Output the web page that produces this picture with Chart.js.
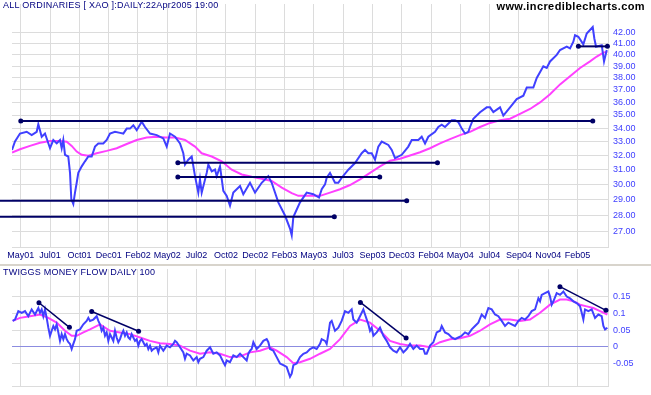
<!DOCTYPE html>
<html>
<head>
<meta charset="utf-8">
<title>ALL ORDINARIES daily</title>
<script src="https://cdn.jsdelivr.net/npm/chart.js@4.4.0/dist/chart.umd.min.js"></script>
<style>
  html, body { margin: 0; padding: 0; background: #fff; }
  #wrap { position: relative; width: 651px; height: 395px; overflow: hidden; }
  canvas { position: absolute; left: 0; }
  #top { top: 0; }
  #bottom { top: 265px; }
  .label { position: absolute; font-family: Arial, "Liberation Sans", sans-serif; white-space: nowrap; }
  #title { left: 3px; top: 0; font-size: 9px; line-height: 11px; color: #000080; letter-spacing: 0.25px; }
  #site { right: 6px; top: 0; font-size: 11px; line-height: 13px; font-weight: bold; color: #000; letter-spacing: 0.4px; }
  #subtitle { left: 3px; top: 267px; font-size: 9px; line-height: 11px; color: #000080; letter-spacing: 0.25px; }
  #sep { position: absolute; left: 0; top: 264px; width: 651px; height: 2px; background: #d8d4cc; }
</style>
</head>
<body>
<div id="wrap">
  <canvas id="top" width="651" height="265"></canvas>
  <canvas id="bottom" width="651" height="130"></canvas>
  <div id="sep"></div>
  <div class="label" id="title">ALL ORDINARIES [ XAO ]:DAILY:22Apr2005 19:00</div>
  <div class="label" id="site">www.incrediblecharts.com</div>
  <div class="label" id="subtitle">TWIGGS MONEY FLOW DAILY 100</div>
</div>
<script>
// x = weeks from the start of the window, a grid line every 10 weeks
const gridWeeks = [3, 13, 23, 33, 43, 53, 63, 73, 83, 93, 103, 113, 123, 133, 143, 153, 163, 173, 183, 193];
const gridLabels = ['May01', 'Jul01', 'Oct01', 'Dec01', 'Feb02', 'May02', 'Jul02', 'Oct02', 'Dec02', 'Feb03',
  'May03', 'Jul03', 'Sep03', 'Dec03', 'Feb04', 'May04', 'Jul04', 'Sep04', 'Nov04', 'Feb05'];
const priceTicks = [27, 28, 29, 30, 31, 32, 33, 34, 35, 36, 37, 38, 39, 40, 41, 42];
const tmfTicks = [-0.05, 0, 0.05, 0.1, 0.15];

// closing price
const priceWeeks = [0, 1.02, 2.73, 5.02, 6.72, 8.43, 8.98, 10.14, 11.26, 12.97, 14.1, 15.26, 16.38, 16.96, 17.51,
  18.09, 19.2, 19.8, 20.24, 20.92, 21.5, 22.08, 22.63, 23.79, 24.91, 26.04, 27.2, 28.33, 29.45, 31.16, 32.32,
  33.45, 35.15, 36.86, 37.99, 39.15, 40.27, 41.4, 42.56, 44.27, 45.39, 47.1, 49.39, 51.64, 52.8, 53.92, 55.63,
  57.34, 58.46, 59.04, 60.17, 61.33, 62.46, 63.58, 64.16, 64.74, 66.45, 67.0, 68.16, 69.28, 69.86, 70.99, 72.12,
  73.28, 74.4, 75.53, 77.82, 78.94, 81.23, 82.94, 85.22, 87.47, 88.63, 90.89, 93.17, 94.88, 95.46, 96.01, 98.29,
  100.58, 102.83, 104.78, 105.7, 106.83, 107.41, 108.53, 110.24, 111.37, 112.53, 114.78, 117.06, 119.35, 120.48,
  121.6, 122.76, 123.89, 125.02, 126.18, 128.43, 129.59, 130.72, 133.0, 135.25, 136.42, 138.67, 139.83, 140.96,
  142.08, 144.37, 145.49, 146.66, 147.78, 150.07, 151.19, 152.32, 153.48, 154.61, 155.73, 156.31, 157.44, 159.73,
  162.01, 163.14, 164.27, 166.55, 167.68, 169.97, 172.25, 174.51, 175.67, 177.92, 179.08, 181.33, 182.49, 183.62,
  185.9, 187.03, 189.32, 190.44, 191.57, 192.15, 193.28, 194.98, 196.14, 198.19, 198.74, 199.32, 201.26, 202.05,
  202.97];
const priceClose = [32.39, 33.0, 33.59, 33.72, 33.47, 33.72, 34.29, 33.35, 33.59, 32.51, 33.11, 32.86, 33.11, 32.51,
  33.11, 32.04, 31.92, 30.78, 29.04, 28.73, 29.46, 30.11, 30.78, 31.23, 31.58, 31.92, 31.92, 32.63, 32.86, 32.86,
  33.11, 33.59, 33.72, 33.64, 33.59, 33.96, 33.96, 34.21, 33.84, 34.48, 34.08, 33.59, 33.47, 33.23, 32.63, 33.59,
  33.35, 32.86, 32.15, 31.35, 31.69, 31.92, 30.56, 29.46, 30.34, 29.46, 30.78, 31.35, 30.89, 31.01, 30.56, 31.23,
  29.57, 29.25, 28.62, 29.46, 29.9, 29.36, 30.11, 29.46, 30.11, 30.56, 30.11, 28.83, 28.0, 27.2, 26.8, 27.9, 28.83,
  29.46, 29.36, 29.14, 29.68, 30.0, 30.45, 30.78, 30.11, 30.11, 30.45, 31.0, 31.46, 32.15, 32.39, 32.15, 32.15,
  31.69, 32.63, 32.99, 32.75, 32.39, 31.8, 32.04, 32.63, 33.11, 33.11, 33.35, 32.86, 33.35, 33.72, 34.08, 34.26,
  34.08, 34.6, 34.6, 34.46, 33.96, 33.59, 33.72, 34.08, 34.71, 35.22, 35.6, 35.6, 35.22, 35.6, 34.96, 35.6, 36.26,
  36.53, 37.2, 37.2, 38.0, 39.0, 38.85, 39.42, 40.0, 40.43, 40.73, 40.58, 41.18, 41.78, 41.64, 40.94, 41.94, 42.55,
  41.48, 40.73, 40.87, 39.42, 40.43];

// moving average of the close
const maWeeks = [0, 2.73, 6.14, 9.56, 12.97, 16.38, 18.67, 20.38, 22.08, 23.79, 26.04, 28.91, 32.32, 35.73, 39.15,
  42.56, 45.97, 49.39, 52.22, 55.63, 59.04, 62.46, 64.74, 68.16, 71.57, 74.98, 78.4, 81.81, 85.22, 88.63, 92.05,
  95.46, 97.71, 101.13, 105.12, 108.53, 111.95, 115.36, 118.77, 122.18, 125.6, 129.01, 132.42, 135.84, 139.25,
  142.66, 146.08, 149.49, 152.9, 156.31, 159.73, 163.14, 166.55, 169.97, 173.38, 176.79, 180.2, 183.62, 187.03,
  190.44, 193.86, 197.27, 199.56, 201.81, 203.17];
const maClose = [32.2, 32.44, 32.68, 32.91, 33.04, 33.04, 32.99, 32.68, 32.27, 32.04, 31.97, 32.15, 32.32, 32.51,
  32.82, 33.11, 33.3, 33.35, 33.3, 33.3, 33.11, 32.63, 32.15, 31.92, 31.58, 31.0, 30.67, 30.51, 30.38, 30.23, 29.79,
  29.43, 29.25, 29.25, 29.25, 29.46, 29.68, 29.96, 30.34, 30.78, 31.23, 31.62, 31.76, 31.99, 32.22, 32.51, 32.86,
  33.18, 33.47, 33.72, 34.08, 34.39, 34.6, 34.71, 35.09, 35.47, 35.99, 36.65, 37.46, 38.15, 38.85, 39.42, 39.85,
  40.2, 40.29];

// horizontal support / resistance lines
const levelPrice = [34.53, 31.48, 30.5, 28.93, 27.92, 40.76];
const levelFrom = [3.0, 56.6, 56.6, -4.1, -4.1, 193.3];
const levelTo = [198.2, 145.2, 125.5, 134.7, 110.0, 203.2];
const levelStartDot = [true, true, true, false, false, true];

// Twiggs money flow (100) and its average
const tmfWeeks = [0.23, 1.02, 2.16, 3.3, 4.44, 5.57, 6.71, 7.85, 8.99, 9.56, 10.13, 10.69, 11.26, 11.83, 12.4, 12.97,
  13.54, 14.11, 14.68, 15.24, 15.81, 16.38, 16.95, 17.52, 18.09, 18.66, 19.23, 19.8, 20.36, 20.93, 21.5, 22.07,
  23.21, 24.35, 25.48, 26.05, 26.62, 27.76, 28.9, 29.47, 30.03, 30.6, 31.17, 31.74, 32.31, 32.88, 33.45, 34.02,
  34.58, 35.15, 35.72, 36.29, 36.86, 37.43, 38.0, 38.57, 39.14, 39.7, 40.27, 40.84, 41.41, 41.98, 42.55, 43.12,
  43.69, 44.25, 44.82, 45.39, 45.96, 46.53, 47.1, 47.67, 48.24, 49.37, 49.94, 50.51, 51.65, 52.79, 53.92, 55.06,
  55.63, 56.2, 57.34, 58.48, 59.04, 59.61, 60.75, 61.89, 63.03, 63.6, 64.16, 65.3, 66.44, 67.01, 67.58, 68.71,
  69.85, 70.99, 72.13, 72.7, 73.27, 74.4, 75.54, 76.68, 77.82, 78.95, 80.09, 80.66, 81.23, 81.8, 82.37, 83.5,
  84.64, 85.78, 86.92, 87.49, 88.05, 89.19, 90.33, 91.47, 92.6, 93.74, 94.88, 95.45, 96.02, 97.16, 98.29, 99.43,
  100.57, 101.71, 102.84, 103.98, 105.12, 105.69, 106.83, 107.39, 107.96, 108.53, 109.1, 109.67, 110.24, 111.38,
  112.51, 113.65, 114.79, 115.93, 116.5, 117.63, 118.77, 119.91, 120.48, 121.62, 122.18, 122.75, 123.32, 124.46,
  125.6, 126.74, 127.87, 129.01, 130.15, 131.29, 132.42, 133.56, 134.7, 135.84, 136.97, 138.11, 139.25, 140.39,
  140.96, 141.52, 142.66, 143.8, 144.94, 146.08, 146.65, 147.78, 148.92, 150.06, 151.2, 152.33, 153.47, 154.61,
  155.75, 156.88, 158.02, 159.16, 160.3, 161.43, 162.0, 162.57, 163.71, 164.85, 165.98, 167.12, 168.26, 169.4,
  170.54, 171.67, 172.81, 173.95, 175.09, 176.22, 177.36, 178.5, 179.64, 180.2, 180.77, 181.91, 183.05, 183.62,
  184.19, 184.76, 185.89, 187.03, 188.17, 189.31, 190.44, 191.58, 192.72, 193.86, 194.43, 194.99, 195.56, 196.7,
  197.84, 198.98, 200.11, 201.25, 201.82, 202.39, 203.19];
const tmfValues = [0.077, 0.081, 0.106, 0.101, 0.106, 0.091, 0.111, 0.096, 0.115, 0.101, 0.111, 0.091, 0.111, 0.086,
  0.057, 0.033, 0.048, 0.062, 0.052, 0.067, 0.043, 0.018, 0.038, 0.023, 0.038, 0.023, 0.014, 0.009, -0.006, 0.009,
  0.023, 0.048, 0.052, 0.067, 0.077, 0.086, 0.077, 0.081, 0.091, 0.077, 0.067, 0.048, 0.057, 0.033, 0.043, 0.018,
  0.038, 0.028, 0.018, 0.048, 0.028, 0.014, 0.023, 0.038, 0.048, 0.033, 0.043, 0.028, 0.023, 0.038, 0.028, 0.018,
  0.023, 0.004, 0.018, 0.023, 0.014, 0.004, 0.009, -0.006, 0.004, -0.011, -0.006, -0.001, -0.016, 0.004, -0.011,
  0.004, -0.001, 0.009, 0.018, 0.014, -0.001, -0.016, -0.035, -0.020, -0.025, -0.040, -0.030, -0.045, -0.035,
  -0.030, -0.011, -0.006, -0.001, -0.020, -0.016, -0.025, -0.045, -0.054, -0.040, -0.045, -0.025, -0.030, -0.020,
  -0.030, -0.040, -0.020, -0.011, -0.006, 0.014, -0.006, 0.004, 0.018, 0.023, 0.014, -0.006, -0.011, -0.030,
  -0.049, -0.054, -0.059, -0.088, -0.079, -0.054, -0.049, -0.030, -0.020, -0.016, -0.006, -0.001, -0.006, 0.009,
  0.023, 0.018, 0.009, 0.038, 0.072, 0.077, 0.062, 0.048, 0.057, 0.077, 0.106, 0.101, 0.111, 0.081, 0.072, 0.091,
  0.111, 0.096, 0.067, 0.048, 0.057, 0.033, 0.043, 0.057, 0.033, 0.018, -0.001, -0.011, -0.016, -0.001, -0.016,
  -0.006, 0.009, -0.006, 0.004, -0.006, -0.006, -0.020, -0.020, 0.004, 0.014, 0.043, 0.048, 0.062, 0.043, 0.038,
  0.028, 0.023, 0.028, 0.033, 0.043, 0.038, 0.052, 0.062, 0.072, 0.096, 0.086, 0.101, 0.115, 0.111, 0.096, 0.091,
  0.077, 0.062, 0.072, 0.067, 0.062, 0.077, 0.086, 0.081, 0.091, 0.106, 0.111, 0.144, 0.135, 0.154, 0.159, 0.164,
  0.149, 0.125, 0.135, 0.159, 0.154, 0.164, 0.149, 0.144, 0.135, 0.130, 0.120, 0.101, 0.081, 0.111, 0.106, 0.111,
  0.086, 0.096, 0.091, 0.062, 0.052, 0.057];
const tmfMaWeeks = [0.23, 2.73, 6.14, 9.56, 12.4, 15.24, 18.09, 20.36, 22.07, 24.35, 26.62, 30.03, 33.45, 36.86,
  40.27, 43.69, 47.1, 50.51, 53.92, 57.34, 60.75, 64.16, 67.58, 70.99, 74.4, 77.82, 81.23, 84.64, 88.05, 90.33,
  93.74, 96.02, 98.29, 101.71, 105.12, 108.53, 111.95, 115.36, 118.77, 122.18, 125.6, 129.01, 132.42, 135.84,
  139.25, 142.66, 146.08, 149.49, 152.9, 156.31, 159.73, 163.14, 166.55, 169.97, 173.38, 176.79, 180.2, 183.62,
  187.03, 189.31, 191.58, 193.86, 196.13, 198.41, 200.68, 203.19];
const tmfMaValues = [0.077, 0.086, 0.091, 0.096, 0.086, 0.072, 0.048, 0.033, 0.033, 0.043, 0.052, 0.067, 0.048, 0.043,
  0.038, 0.028, 0.018, 0.011, 0.009, 0.004, -0.011, -0.020, -0.016, -0.020, -0.030, -0.028, -0.016, -0.011, -0.001,
  -0.011, -0.030, -0.048, -0.045, -0.035, -0.020, -0.006, 0.023, 0.062, 0.081, 0.072, 0.048, 0.018, 0.009, 0.004,
  0.004, -0.001, 0.014, 0.023, 0.026, 0.033, 0.048, 0.067, 0.081, 0.081, 0.077, 0.081, 0.101, 0.125, 0.140, 0.140,
  0.135, 0.125, 0.120, 0.115, 0.106, 0.096];

// divergence lines on the money flow
const trendFromWeek = [9.2, 27.2, 118.9, 187.0];
const trendFromValue = [0.1308, 0.1047, 0.1317, 0.1782];
const trendToWeek = [19.6, 43.2, 134.5, 202.7];
const trendToValue = [0.0581, 0.0465, 0.0262, 0.1084];

const FONT = 'Arial, "Liberation Sans", sans-serif';
const GRID = '#dcdcdc';
const NAVY = '#000066';
const BLUE = '#4040ff';
const PINK = '#ff40ff';

function points(xs, ys) {
  return xs.map((x, i) => ({ x: x, y: ys[i] }));
}

// keep the plot box where it is: no extra room for edge labels
function noPadding(s) {
  s.paddingLeft = 0; s.paddingRight = 0; s.paddingTop = 0; s.paddingBottom = 0;
}

function weekAxis(showLabels, height) {
  return {
    type: 'linear', min: 0, max: 203.4,
    grid: { color: GRID, lineWidth: 1, drawTicks: false },
    border: { display: true, color: GRID },
    ticks: {
      display: showLabels, autoSkip: false, maxRotation: 0, padding: 3,
      color: '#000080', font: { family: FONT, size: 9 },
      callback: (v, i) => gridLabels[i]
    },
    afterBuildTicks: s => { s.ticks = gridWeeks.map(v => ({ value: v })); },
    afterFit: s => { s.height = height; noPadding(s); }
  };
}

const levelSets = levelPrice.map((p, i) => ({
  data: [{ x: levelFrom[i], y: p }, { x: levelTo[i], y: p }],
  borderColor: NAVY, backgroundColor: NAVY, borderWidth: 2,
  pointRadius: [levelStartDot[i] ? 2.5 : 0, 2.5], pointBorderWidth: 0,
  pointBackgroundColor: NAVY, clip: false
}));

new Chart(document.getElementById('top'), {
  type: 'line',
  data: {
    datasets: levelSets.concat([
      { data: points(priceWeeks, priceClose), borderColor: BLUE, borderWidth: 2, pointRadius: 0 },
      { data: points(maWeeks, maClose), borderColor: PINK, borderWidth: 2, pointRadius: 0 }
    ])
  },
  options: {
    responsive: false, animation: false, events: [],
    layout: { padding: { left: 12, top: 0, right: 0, bottom: 0 } },
    plugins: { legend: { display: false }, tooltip: { enabled: false } },
    elements: { line: { tension: 0 } },
    scales: {
      x: weekAxis(true, 18),
      y: {
        type: 'logarithmic', position: 'right', min: 26.11, max: 44.78,
        grid: { color: GRID, lineWidth: 1, drawTicks: false },
        border: { display: true, color: GRID },
        ticks: { color: BLUE, padding: 5, font: { family: FONT, size: 9 }, callback: v => Number(v).toFixed(2) },
        afterBuildTicks: s => { s.ticks = priceTicks.map(v => ({ value: v })); },
        afterFit: s => { s.width = 43; noPadding(s); }
      }
    }
  }
});

const trendSets = trendFromWeek.map((w, i) => ({
  data: [{ x: w, y: trendFromValue[i] }, { x: trendToWeek[i], y: trendToValue[i] }],
  borderColor: NAVY, backgroundColor: NAVY, borderWidth: 1.5,
  pointRadius: 2.5, pointBorderWidth: 0, pointBackgroundColor: NAVY, clip: false
}));

new Chart(document.getElementById('bottom'), {
  type: 'line',
  data: {
    datasets: trendSets.concat([
      { data: points(tmfWeeks, tmfValues), borderColor: BLUE, borderWidth: 2, pointRadius: 0 },
      { data: points(tmfMaWeeks, tmfMaValues), borderColor: PINK, borderWidth: 2, pointRadius: 0 }
    ])
  },
  options: {
    responsive: false, animation: false, events: [],
    layout: { padding: { left: 12, top: 2, right: 0, bottom: 0 } },
    plugins: { legend: { display: false }, tooltip: { enabled: false } },
    elements: { line: { tension: 0 } },
    scales: {
      x: weekAxis(false, 9),
      y: {
        type: 'linear', position: 'right', min: -0.1154, max: 0.2305,
        grid: {
          lineWidth: 1, drawTicks: false,
          color: ctx => (ctx.tick && ctx.tick.value === 0 ? '#8c8ce0' : GRID)
        },
        border: { display: true, color: GRID },
        ticks: { color: BLUE, padding: 5, font: { family: FONT, size: 9 }, callback: v => String(v) },
        afterBuildTicks: s => { s.ticks = tmfTicks.map(v => ({ value: v })); },
        afterFit: s => { s.width = 43; noPadding(s); }
      }
    }
  }
});
</script>
</body>
</html>
